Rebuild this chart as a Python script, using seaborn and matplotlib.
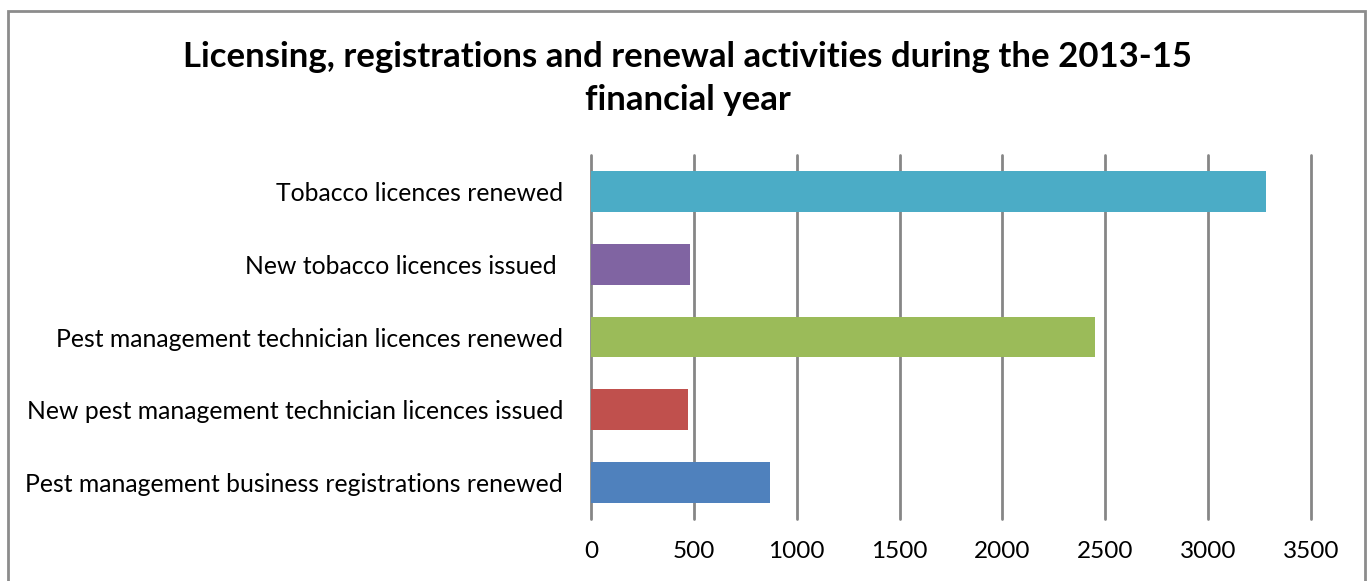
import pandas as pd
import seaborn as sns
import matplotlib.pyplot as plt
from matplotlib.patches import Rectangle

# data (top to bottom)
activities = ["Tobacco licences renewed",
              "New tobacco licences issued ",
              "Pest management technician licences renewed",
              "New pest management technician licences issued",
              "Pest management business registrations renewed"]
counts = [3280, 480, 2450, 473, 869]
bar_colours = ["#4BACC6", "#8064A2", "#9BBB59", "#C0504D", "#4F81BD"]
x_ticks = [0, 500, 1000, 1500, 2000, 2500, 3000, 3500]

df = pd.DataFrame({"Activity": activities, "Count": counts})

sns.set_theme(style="white")
plt.rcParams['font.family'] = ['Lato', 'DejaVu Sans']

fig = plt.figure(figsize=(13.69, 5.81), dpi=100)
ax = fig.add_axes([0.4317, 0.1067, 0.5259, 0.6265])

sns.barplot(data=df, x="Count", y="Activity", hue="Activity",
            palette=bar_colours, orient="h", width=0.56,
            legend=False, saturation=1, linewidth=0, ax=ax, zorder=3)

ax.set_xlim(0, 3500)
ax.set_ylim(4.5, -0.5)
ax.set_xticks(x_ticks)
ax.set_xticklabels([str(t) for t in x_ticks])
for t in x_ticks:
    ax.axvline(t, color="#868686", lw=2, zorder=1, clip_on=False)

for s in ax.spines.values():
    s.set_visible(False)
ax.set(xlabel="", ylabel="")
ax.tick_params(axis="x", length=0, pad=16, labelsize=17.5, labelcolor="black")
ax.tick_params(axis="y", length=0, pad=20, labelsize=17.8, labelcolor="black")

fig.text(0.5025, 0.902, "Licensing, registrations and renewal activities during the 2013-15",
         ha="center", va="center", fontsize=25, fontweight="bold", color="black")
fig.text(0.5025, 0.828, "financial year",
         ha="center", va="center", fontsize=25, fontweight="bold", color="black")

# outer chart border, cut off at the bottom like the reference
fig.patches.append(Rectangle((8 / 1369, -0.1), (1365 - 8) / 1369, 1 - 11 / 581 + 0.1,
                             transform=fig.transFigure, fill=False,
                             edgecolor="#8c8c8c", lw=2))

fig.savefig("out.png", dpi=100)
